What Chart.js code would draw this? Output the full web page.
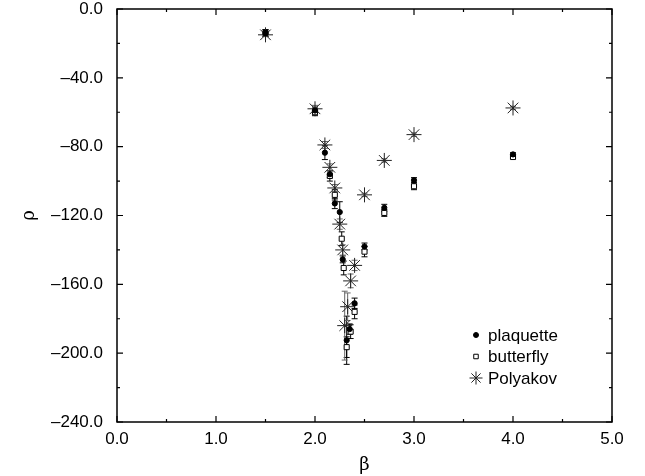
<!DOCTYPE html>
<html>
<head>
<meta charset="utf-8">
<script src="https://cdn.jsdelivr.net/npm/chart.js@4.4.1/dist/chart.umd.min.js"></script>
<style>
  html, body { margin: 0; padding: 0; background: #fff; }
  canvas { display: block; }
</style>
</head>
<body>
<canvas id="rhoChart" width="645" height="476"></canvas>
<script>
// data: beta, rho and error per series
const betaPlaq = [1.5, 2.0, 2.1, 2.15, 2.2, 2.25, 2.28, 2.32, 2.35, 2.4, 2.5, 2.7, 3.0, 4.0];
const rhoPlaq  = [-14, -59, -83.5, -96, -113, -118, -145.5, -192.5, -186, -171, -138, -115.5, -99.5, -84.5];
const errPlaq  = [2, 2, 4, 2, 3, 6, 2, 14, 3, 3, 2, 2, 1.5, 1];

const betaButt = [1.5, 2.0, 2.15, 2.2, 2.27, 2.29, 2.32, 2.36, 2.4, 2.5, 2.7, 3.0, 4.0];
const rhoButt  = [-14, -60, -97, -108, -133.5, -150.5, -196.5, -187.5, -176, -141, -118.5, -103, -86];
const errButt  = [2, 2, 3, 3, 4, 4, 6, 4, 4, 3, 2, 2, 1];

const betaPoly = [1.5, 2.0, 2.1, 2.15, 2.2, 2.25, 2.28, 2.3, 2.33, 2.36, 2.4, 2.5, 2.7, 3.0, 4.0];
const rhoPoly  = [-15, -58, -79, -92, -104, -125, -140, -184, -173, -158, -149, -108, -88, -73, -57.5];
const errPoly  = [1, 2, 2, 2, 2, 3, 3, 20, 8, 4, 3, 1, 1, 1, 1];

const xTicks = [0, 1, 2, 3, 4, 5];
const yTicks = [0, -40, -80, -120, -160, -200, -240];

const FONT = "'Liberation Sans', Arial, Helvetica, sans-serif";

function toPoints(xs, ys) {
  return xs.map((x, i) => ({ x, y: ys[i] }));
}

// helper: tick label with a long dash
function fmt(v) {
  const s = Math.abs(v).toFixed(1);
  return v < 0 ? '\u2013' + s : s;
}

// error bars drawn behind the markers
const errorBars = {
  id: 'errorBars',
  beforeDatasetsDraw(chart) {
    const { ctx, scales: { x, y } } = chart;
    ctx.save();
    chart.data.datasets.forEach(ds => {
      if (!ds.errors) return;
      ctx.strokeStyle = ds.errColor || '#000';
      ctx.lineWidth = 1;
      ds.data.forEach((p, i) => {
        const e = ds.errors[i];
        const px = x.getPixelForValue(p.x);
        const y1 = y.getPixelForValue(p.y - e);
        const y2 = y.getPixelForValue(p.y + e);
        ctx.beginPath();
        ctx.moveTo(px, y1); ctx.lineTo(px, y2);
        ctx.moveTo(px - 3, y1); ctx.lineTo(px + 3, y1);
        ctx.moveTo(px - 3, y2); ctx.lineTo(px + 3, y2);
        ctx.stroke();
      });
    });
    ctx.restore();
  }
};

// box frame with inward ticks on all four sides
const frame = {
  id: 'frame',
  afterDraw(chart) {
    const { ctx, chartArea: a, scales: { x, y } } = chart;
    ctx.save();
    ctx.strokeStyle = '#000';
    ctx.lineWidth = 1.5;
    ctx.strokeRect(a.left, a.top, a.right - a.left, a.bottom - a.top);
    ctx.lineWidth = 1.2;
    ctx.beginPath();
    for (let v = 0; v <= 5.001; v += 0.5) {
      const px = x.getPixelForValue(v);
      const len = Math.abs(v - Math.round(v)) < 1e-6 ? 6 : 3;
      ctx.moveTo(px, a.bottom); ctx.lineTo(px, a.bottom - len);
      ctx.moveTo(px, a.top); ctx.lineTo(px, a.top + len);
    }
    for (let v = 0; v >= -240; v -= 20) {
      const py = y.getPixelForValue(v);
      const len = v % 40 === 0 ? 6 : 3;
      ctx.moveTo(a.left, py); ctx.lineTo(a.left + len, py);
      ctx.moveTo(a.right, py); ctx.lineTo(a.right - len, py);
    }
    ctx.stroke();
    ctx.restore();
  }
};

// legend inside the plot, lower right
const insideLegend = {
  id: 'insideLegend',
  afterDraw(chart) {
    const { ctx, chartArea: a } = chart;
    const x0 = a.left + 359, y0 = a.top + 326, dy = 21.5;
    ctx.save();
    ctx.font = '17px ' + FONT;
    ctx.textBaseline = 'middle';
    chart.data.datasets.forEach((ds, i) => {
      const y = y0 + i * dy;
      ctx.fillStyle = ds.backgroundColor;
      ctx.strokeStyle = ds.borderColor;
      ctx.lineWidth = 1;
      Chart.helpers.drawPoint(ctx, {
        pointStyle: ds.pointStyle,
        radius: ds.legendRadius,
        rotation: 0,
        borderWidth: 1
      }, x0, y);
      ctx.fillStyle = '#000';
      ctx.fillText(ds.label, x0 + 12, y + 1);
    });
    ctx.restore();
  }
};

const datasets = [
  {
    label: 'plaquette',
    data: toPoints(betaPlaq, rhoPlaq),
    errors: errPlaq,
    pointStyle: 'circle',
    pointRadius: 2.6,
    legendRadius: 2.5,
    backgroundColor: '#000',
    borderColor: '#000',
    borderWidth: 1
  },
  {
    label: 'butterfly',
    data: toPoints(betaButt, rhoButt),
    errors: errButt,
    pointStyle: 'rect',
    pointRadius: 3.6,
    legendRadius: 3.2,
    backgroundColor: '#fff',
    borderColor: '#000',
    borderWidth: 1
  },
  {
    label: 'Polyakov',
    data: toPoints(betaPoly, rhoPoly),
    errors: errPoly,
    errColor: '#666',
    pointStyle: 'star',
    pointRadius: 7.5,
    legendRadius: 6.5,
    backgroundColor: '#000',
    borderColor: '#222',
    borderWidth: 1
  }
];

new Chart(document.getElementById('rhoChart').getContext('2d'), {
  type: 'scatter',
  data: { datasets },
  plugins: [errorBars, frame, insideLegend],
  options: {
    responsive: false,
    animation: false,
    layout: { padding: { top: 9, right: 33, left: 0, bottom: 0 } },
    plugins: {
      legend: { display: false },
      tooltip: { enabled: false }
    },
    scales: {
      x: {
        type: 'linear',
        min: 0, max: 5,
        afterBuildTicks: s => { s.ticks = xTicks.map(v => ({ value: v })); },
        afterFit: s => { s.height = 54; s.paddingLeft = 0; s.paddingRight = 0; },
        grid: { display: false, drawTicks: false },
        border: { display: false },
        ticks: {
          callback: v => fmt(v),
          color: '#000',
          padding: 7,
          maxRotation: 0,
          font: { family: FONT, size: 17 }
        },
        title: {
          display: true, text: 'β', color: '#000',
          padding: { top: 0, bottom: 0 },
          font: { family: 'DejaVu Serif, serif', size: 18 }
        }
      },
      y: {
        type: 'linear',
        min: -240, max: 0,
        afterBuildTicks: s => { s.ticks = yTicks.map(v => ({ value: v })); },
        afterFit: s => { s.width = 117; s.paddingTop = 0; s.paddingBottom = 0; },
        grid: { display: false, drawTicks: false },
        border: { display: false },
        ticks: {
          callback: v => fmt(v),
          color: '#000',
          padding: 14,
          font: { family: FONT, size: 17 }
        },
        title: {
          display: true, text: 'ρ', color: '#000',
          padding: { top: 19, bottom: 0 },
          font: { family: 'DejaVu Serif, serif', size: 18 }
        }
      }
    }
  }
});
</script>
</body>
</html>
